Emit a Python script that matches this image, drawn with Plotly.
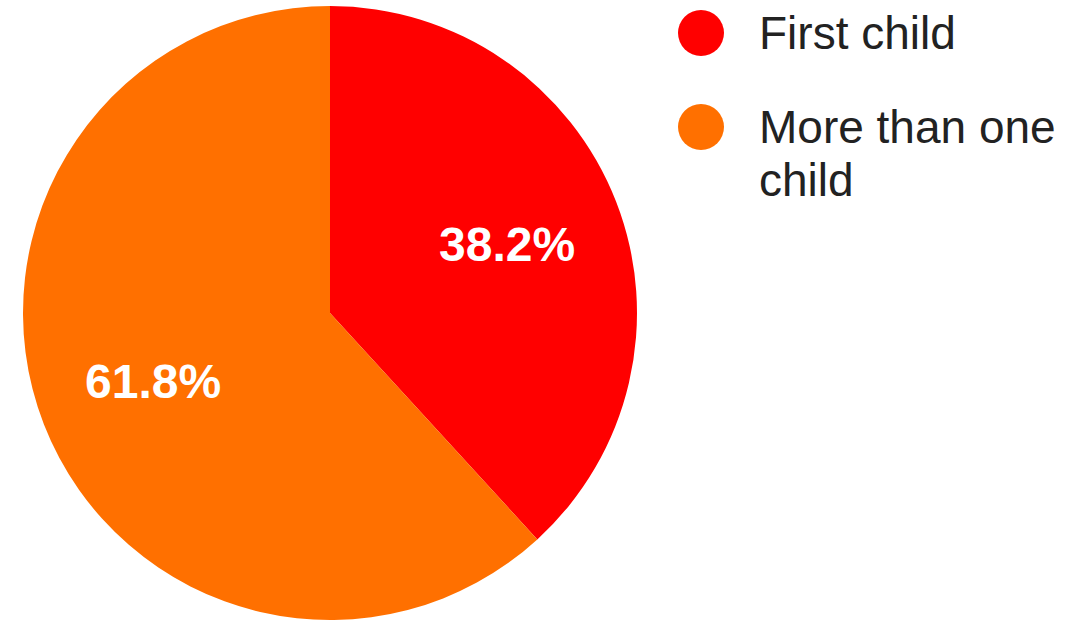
import math
import plotly.graph_objects as go

categories = ["First child", "More than one child"]
legend_lines = [["First child"], ["More than one", "child"]]
values = [38.2, 61.8]
colors = ["#FF0000", "#FF7000"]

W, H = 1087, 622
cx, cy, r = 330, 313, 307

fig = go.Figure()
fig.add_trace(go.Pie(
    labels=categories,
    values=values,
    marker=dict(colors=colors, line=dict(width=0)),
    sort=False,
    direction="clockwise",
    rotation=0,
    textinfo="none",
    domain=dict(x=[(cx - r) / W, (cx + r) / W], y=[1 - (cy + r) / H, 1 - (cy - r) / H]),
    showlegend=False,
    hoverinfo="label+percent",
))

annotations = []
shapes = []

# percentage labels placed at the slice mid-angles (computed from values)
total = sum(values)
start = 0.0
for v in values:
    mid = (start + v / 2) / total * 2 * math.pi
    start += v
    px = cx + 0.62 * r * math.sin(mid)
    py = cy - 0.62 * r * math.cos(mid)
    annotations.append(dict(text=f"{v / total * 100:.1f}%", xref="paper", yref="paper",
                            x=px / W, y=1 - py / H, xanchor="center", yanchor="middle",
                            showarrow=False,
                            font=dict(family="Liberation Sans, Arial", size=48,
                                      color="white", weight="bold")))

# custom legend with large circular markers
leg_x, leg_y0, leg_dy, rad = 701, 33, 94, 23
line_h = 53
for i, (lines, col) in enumerate(zip(legend_lines, colors)):
    y = leg_y0 + i * leg_dy
    shapes.append(dict(type="circle", xref="paper", yref="paper",
                       x0=(leg_x - rad) / W, x1=(leg_x + rad) / W,
                       y0=1 - (y + rad) / H, y1=1 - (y - rad) / H,
                       fillcolor=col, line=dict(width=0)))
    for j, txt in enumerate(lines):
        ly = y + j * line_h
        annotations.append(dict(text=txt, xref="paper", yref="paper",
                                x=757 / W, y=1 - ly / H, xanchor="left", yanchor="middle",
                                align="left", showarrow=False,
                                font=dict(family="Liberation Sans, Arial", size=46, color="#222222")))

fig.update_layout(
    width=W, height=H,
    margin=dict(l=0, r=0, t=0, b=0),
    paper_bgcolor="white", plot_bgcolor="white",
    shapes=shapes, annotations=annotations,
)
fig.write_html("out.html", config={"displayModeBar": False},
               post_script="document.body.style.margin='0';document.body.style.overflow='hidden';")
